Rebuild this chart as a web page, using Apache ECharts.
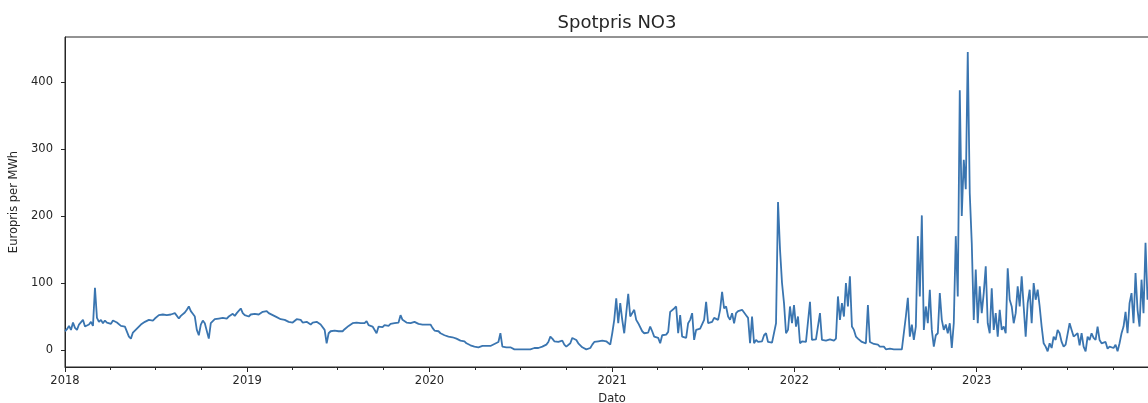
<!DOCTYPE html>
<html>
<head>
<meta charset="utf-8">
<title>Spotpris NO3</title>
<script src="https://cdn.jsdelivr.net/npm/echarts@6/dist/echarts.min.js"></script>
<style>
  html, body { margin: 0; padding: 0; background: #ffffff; }
  #chart { width: 1148px; height: 403px; }
</style>
</head>
<body>
<div id="chart"></div>
<script>
// Daily spot price NO3 (EUR/MWh), sampled every 4 days from 2018-01-01
const startYear = 2018;
const stepDays = 4;
const prices = [
  28, 31, 36, 30, 41, 33, 30, 38, 40, 45,
  35, 33, 38, 42, 36, 93, 48, 42, 45, 40,
  44, 41, 43, 39, 44, 42, 41, 43, 36, 38,
  35, 34, 20, 17, 26, 28, 32, 35, 38, 40,
  42, 44, 45, 46, 44, 47, 46, 52, 54, 53,
  55, 52, 54, 53, 52, 55, 54, 47, 51, 53,
  56, 60, 65, 58, 54, 50, 30, 22, 38, 44,
  40, 42, 17, 40, 43, 46, 44, 47, 45, 48,
  49, 47, 50, 52, 54, 51, 55, 57, 62, 55,
  52, 54, 50, 53, 51, 54, 52, 53, 55, 57,
  56, 58, 55, 54, 52, 51, 49, 47, 46, 44,
  45, 43, 42, 43, 41, 42, 46, 48, 45, 41,
  39, 42, 40, 38, 41, 39, 42, 40, 38, 36,
  30, 10, 25, 28, 26, 29, 27, 28, 30, 28,
  31, 33, 36, 38, 40, 39, 41, 39, 40, 42,
  40, 43, 37, 38, 35, 36, 25, 35, 36, 34,
  37, 38, 36, 39, 37, 40, 38, 41, 52, 45,
  43, 41, 42, 40, 41, 42, 40, 39, 40, 38,
  37, 38, 40, 38, 33, 29, 27, 28, 25, 24,
  22, 23, 20, 21, 19, 18, 17, 15, 14, 12,
  13, 10, 9, 7, 6, 5, 5, 4, 5, 6,
  5, 6, 7, 6, 8, 9, 10, 12, 25, 5,
  3, 4, 3, 4, 2, 1, 2, 1, 0, 1,
  2, 1, 0, 1, 2, 3, 2, 3, 4, 5,
  6, 8, 12, 20, 17, 13, 15, 12, 10, 14,
  8, 5, 3, 10, 18, 20, 15, 10, 8, 4,
  2, 1, 2, 3, 8, 12, 14, 13, 15, 14,
  16, 13, 14, 8, 25, 45, 77, 40, 70, 45,
  25, 55, 84, 50, 52, 60, 45, 40, 38, 28,
  25, 24, 26, 35, 28, 20, 19, 18, 10, 22,
  21, 23, 27, 57, 55, 62, 65, 25, 52, 20,
  22, 18, 40, 45, 55, 15, 30, 28, 32, 30,
  45, 72, 40, 38, 42, 48, 50, 45, 60, 87,
  62, 65, 50, 45, 55, 40, 55, 58, 56, 60,
  58, 52, 48, 10, 50, 10, 15, 12, 14, 13,
  22, 25, 12, 13, 11, 12, 40, 221, 150, 100,
  70, 25, 30, 65, 40, 67, 35, 50, 10, 13,
  15, 12, 14, 72, 15, 14, 16, 15, 55, 15,
  16, 14, 15, 16, 15, 14, 17, 80, 45, 70,
  50, 100, 65, 110, 35, 30, 20, 17, 15, 12,
  13, 10, 67, 12, 10, 9, 10, 8, 5, 4,
  5, 1, 1, 2, 1, 1, 1, 1, 2, 1,
  1, 50, 78, 20, 38, 15, 35, 170, 80, 201,
  30, 65, 40, 90, 30, 5, 22, 25, 85, 45,
  30, 38, 25, 40, 3, 40, 170, 80, 388, 200,
  284, 240, 445, 234, 160, 45, 120, 40, 95, 55,
  85, 125, 40, 25, 92, 30, 55, 20, 60, 30,
  35, 25, 122, 75, 65, 40, 55, 95, 65, 110,
  65, 20, 70, 90, 40, 100, 75, 90, 65, 35,
  10, 5, -2, 10, 3, 20, 15, 30, 25, 12,
  5, 8, 7, 40, 30, 20, 22, 25, 7, 25,
  5, -2, 20, 15, 25, 18, 15, 35, 15, 10,
  8, 12, 2, 5, 6, 3, 8, -2, 10, 25,
  35, 57, 25, 70, 85, 40, 115, 60, 35, 105,
  55, 160, 75
];
const yearLabels = ['2018', '2019', '2020', '2021', '2022', '2023'];
const priceTicks = [0, 100, 200, 300, 400];

// dates are kept as millisecond timestamps on a linear value axis
const seriesData = prices.map((v, i) => [new Date(startYear, 0, 1 + i * stepDays).getTime(), v]);
const yearStarts = yearLabels.map(y => new Date(+y, 0, 1).getTime());
const quarterStarts = [];
for (let y = startYear; y < startYear + 6; y++) {
  for (const m of [3, 6, 9]) quarterStarts.push(new Date(y, m, 1).getTime());
}
const xMin = new Date(startYear, 0, 1).getTime();
const xMax = new Date(startYear + 6, 0, 1).getTime();

const ink = '#262626';
const chart = echarts.init(document.getElementById('chart'), null, { renderer: 'canvas' });
chart.setOption({
  backgroundColor: '#ffffff',
  animation: false,
  title: {
    text: 'Spotpris NO3',
    left: 612, textAlign: 'center', top: 9,
    textStyle: { fontFamily: 'DejaVu Sans', fontSize: 18, fontWeight: 'normal', color: ink }
  },
  grid: {
    left: 65, top: 37, bottom: 36, right: -11,
    containLabel: false, outerBoundsMode: 'none',
    show: true, borderColor: ink, borderWidth: 1, backgroundColor: 'transparent'
  },
  xAxis: [
    {
      type: 'value', min: xMin, max: xMax, scale: true,
      name: 'Dato', nameLocation: 'middle', nameGap: 26,
      nameTextStyle: { fontFamily: 'DejaVu Sans', fontSize: 11.5, color: ink },
      axisLine: { show: true, onZero: false, lineStyle: { color: ink, width: 1 } },
      axisTick: { show: true, length: 5, customValues: yearStarts, lineStyle: { color: ink } },
      axisLabel: {
        customValues: yearStarts, margin: 8,
        formatter: v => String(new Date(v).getFullYear()),
        fontFamily: 'DejaVu Sans', fontSize: 11.5, color: ink
      },
      splitLine: { show: false }
    },
    {
      type: 'value', min: xMin, max: xMax, scale: true, position: 'bottom',
      axisLine: { show: false, onZero: false },
      axisTick: { show: true, length: 3, customValues: quarterStarts, lineStyle: { color: ink } },
      axisLabel: { show: false },
      splitLine: { show: false }
    }
  ],
  yAxis: {
    type: 'value', min: -25.4, max: 467.4,
    name: 'Europris per MWh', nameLocation: 'middle', nameGap: 40, nameRotate: 90,
    nameTextStyle: { fontFamily: 'DejaVu Sans', fontSize: 11.5, color: ink },
    axisLine: { show: true, onZero: false, lineStyle: { color: ink, width: 1 } },
    axisTick: { show: true, length: 4, customValues: priceTicks, lineStyle: { color: ink } },
    axisLabel: {
      customValues: priceTicks, margin: 12,
      fontFamily: 'DejaVu Sans', fontSize: 11.5, color: ink
    },
    splitLine: { show: false }
  },
  series: [{
    type: 'line',
    xAxisIndex: 0,
    data: seriesData,
    showSymbol: false,
    lineStyle: { color: '#3a75b0', width: 1.8 },
    itemStyle: { color: '#3a75b0' }
  }]
});
</script>
</body>
</html>
